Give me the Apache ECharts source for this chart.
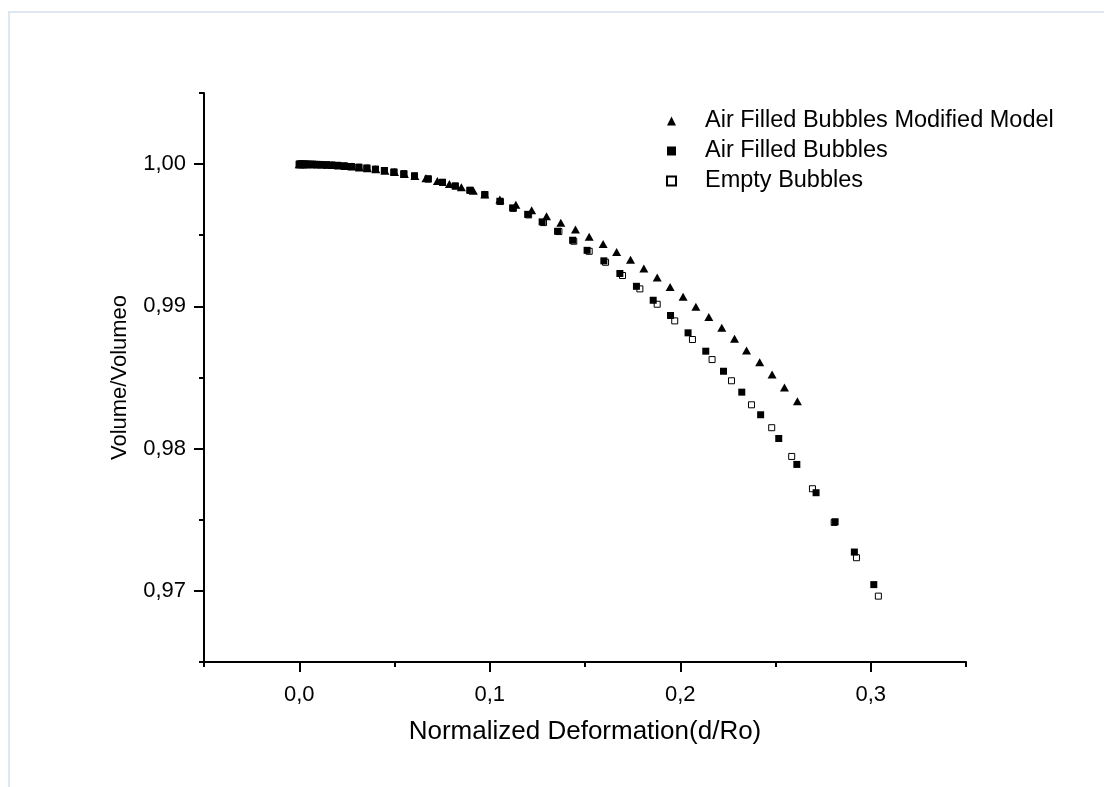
<!DOCTYPE html>
<html>
<head>
<meta charset="utf-8">
<script src="https://cdn.jsdelivr.net/npm/echarts@6/dist/echarts.min.js"></script>
<style>
html,body{margin:0;padding:0;background:#fff;}
#chart{width:1104px;height:787px;}
</style>
</head>
<body>
<div id="chart"></div>
<script>
// ---- data ----
var seriesNames = ['Air Filled Bubbles Modified Model', 'Air Filled Bubbles', 'Empty Bubbles'];
var xTickValues = [0, 0.1, 0.2, 0.3];
var yTickValues = [0.97, 0.98, 0.99, 1.00];

var modelX = [0, 0.0004, 0.0009, 0.0017, 0.0027, 0.0040, 0.0056, 0.0075, 0.0096, 0.0119, 0.0145, 0.0174, 0.0206, 0.0240, 0.0277, 0.0316, 0.0358, 0.0402, 0.0450, 0.0500, 0.0552, 0.0607, 0.0665, 0.0725, 0.0788, 0.0851, 0.0914, 0.0974,
  0.1053, 0.1137, 0.1220, 0.1298, 0.1373, 0.1450, 0.1522, 0.1595, 0.1666, 0.1739, 0.1809, 0.1879, 0.1947, 0.2015, 0.2082, 0.2150, 0.2218, 0.2285, 0.2348, 0.2417, 0.2482, 0.2547, 0.2615];
var modelY = [1.00000, 1.00000, 1.00000, 1.00000, 1.00000, 1.00000, 0.99999, 0.99999, 0.99998, 0.99997, 0.99995, 0.99993, 0.99990, 0.99987, 0.99983, 0.99977, 0.99971, 0.99964, 0.99954, 0.99944, 0.99931, 0.99917, 0.99900, 0.99881, 0.99860, 0.99837, 0.99812, 0.99786,
  0.99751, 0.99715, 0.99675, 0.99633, 0.99587, 0.99540, 0.99489, 0.99439, 0.99383, 0.99327, 0.99266, 0.99203, 0.99137, 0.99067, 0.98997, 0.98926, 0.98849, 0.98772, 0.98690, 0.98607, 0.98521, 0.98430, 0.98333];

var airX = [0, 0.0006, 0.0014, 0.0025, 0.0038, 0.0054, 0.0072, 0.0093, 0.0116, 0.0143, 0.0172, 0.0203, 0.0237, 0.0274, 0.0313, 0.0355, 0.0400, 0.0447, 0.0497, 0.0549, 0.0605, 0.0677, 0.0752, 0.0819, 0.0896, 0.0974,
  0.1053, 0.1120, 0.1199, 0.1275, 0.1356, 0.1435, 0.1511, 0.1599, 0.1683, 0.1770, 0.1858, 0.1949, 0.2041, 0.2134, 0.2227, 0.2323, 0.2422, 0.2517, 0.2612, 0.2713, 0.2813, 0.2914, 0.3016];
var airY = [1.00000, 1.00000, 1.00000, 1.00000, 1.00000, 0.99999, 0.99999, 0.99998, 0.99997, 0.99995, 0.99993, 0.99991, 0.99987, 0.99983, 0.99978, 0.99972, 0.99964, 0.99955, 0.99944, 0.99932, 0.99917, 0.99896, 0.99872, 0.99846, 0.99816, 0.99786,
  0.99739, 0.99692, 0.99647, 0.99594, 0.99528, 0.99465, 0.99394, 0.99320, 0.99231, 0.99141, 0.99043, 0.98936, 0.98814, 0.98685, 0.98544, 0.98397, 0.98238, 0.98071, 0.97889, 0.97690, 0.97486, 0.97273, 0.97044];

var emptyX = [0, 0.0006, 0.0014, 0.0025, 0.0038, 0.0054, 0.0072, 0.0093, 0.0116, 0.0143, 0.0172, 0.0203, 0.0237, 0.0274, 0.0313, 0.0355, 0.0400, 0.0447, 0.0497, 0.0549, 0.0605, 0.0677, 0.0752, 0.0819, 0.0896, 0.0974,
  0.1056, 0.1124, 0.1204, 0.1282, 0.1363, 0.1441, 0.1522, 0.1608, 0.1697, 0.1788, 0.1879, 0.1971, 0.2064, 0.2167, 0.2269, 0.2374, 0.2480, 0.2585, 0.2694, 0.2808, 0.2925, 0.3040];
var emptyY = [1.00000, 1.00000, 1.00000, 1.00000, 1.00000, 0.99999, 0.99999, 0.99998, 0.99997, 0.99995, 0.99993, 0.99991, 0.99987, 0.99983, 0.99978, 0.99972, 0.99964, 0.99955, 0.99944, 0.99932, 0.99917, 0.99896, 0.99872, 0.99846, 0.99816, 0.99786,
  0.99737, 0.99689, 0.99643, 0.99589, 0.99526, 0.99458, 0.99387, 0.99310, 0.99217, 0.99123, 0.99015, 0.98898, 0.98767, 0.98626, 0.98477, 0.98308, 0.98147, 0.97945, 0.97718, 0.97481, 0.97233, 0.96963];

function zip(xs, ys) { return xs.map(function (x, i) { return [x, ys[i]]; }); }

var FONT = '"Liberation Sans", Arial, sans-serif';
var chart = echarts.init(document.getElementById('chart'), null, { renderer: 'canvas' });

var axisLineStyle = { color: '#000', width: 2 };

chart.setOption({
  animation: false,
  backgroundColor: '#fff',
  textStyle: { fontFamily: FONT, color: '#000' },
  graphic: [
    { type: 'line', shape: { x1: 8, y1: 12, x2: 1104, y2: 12 }, style: { stroke: '#dde6f1', lineWidth: 2 }, silent: true },
    { type: 'line', shape: { x1: 9, y1: 12, x2: 9, y2: 787 }, style: { stroke: '#dde6f1', lineWidth: 2 }, silent: true }
  ],
  grid: { left: 204, right: 138, top: 93, bottom: 125, containLabel: false },
  legend: {
    orient: 'vertical',
    left: 661,
    top: 104,
    itemWidth: 9,
    itemHeight: 9,
    itemGap: 6,
    data: seriesNames,
    textStyle: { fontFamily: FONT, fontSize: 23.5, lineHeight: 23.5, color: '#000', padding: [0, 0, 0, 24] }
  },
  xAxis: [{
    type: 'value', min: -0.05, max: 0.35, interval: 0.05,
    position: 'bottom', offset: 0,
    name: 'Normalized Deformation(d/Ro)', nameLocation: 'middle', nameGap: 57,
    nameTextStyle: { fontFamily: FONT, fontSize: 26, color: '#000' },
    axisLine: { show: true, onZero: false, lineStyle: axisLineStyle },
    axisTick: { show: true, inside: false, length: 5, lineStyle: axisLineStyle },
    axisLabel: {
      show: true, margin: 22, fontSize: 22, fontFamily: FONT, color: '#000',
      customValues: xTickValues,
      formatter: function (v) { return v.toFixed(1).replace('.', ','); }
    },
    splitLine: { show: false }
  }, {
    type: 'value', min: -0.05, max: 0.35, interval: 0.05,
    position: 'bottom', offset: 0,
    axisLine: { show: false, onZero: false },
    axisTick: { show: true, inside: false, length: 10, lineStyle: axisLineStyle, customValues: xTickValues },
    axisLabel: { show: false },
    splitLine: { show: false }
  }],
  yAxis: [{
    type: 'value', min: 0.965, max: 1.005, interval: 0.005,
    position: 'left', offset: 0,
    name: 'Volume/Volumeo', nameLocation: 'middle', nameGap: 73, nameRotate: 90,
    nameTextStyle: { fontFamily: FONT, fontSize: 22, color: '#000' },
    axisLine: { show: true, onZero: false, lineStyle: axisLineStyle },
    axisTick: { show: true, inside: false, length: 5, lineStyle: axisLineStyle },
    axisLabel: {
      show: true, margin: 18, fontSize: 22, fontFamily: FONT, color: '#000',
      customValues: yTickValues,
      formatter: function (v) { return v.toFixed(2).replace('.', ','); }
    },
    splitLine: { show: false }
  }, {
    type: 'value', min: 0.965, max: 1.005, interval: 0.005,
    position: 'left', offset: 0,
    axisLine: { show: false, onZero: false },
    axisTick: { show: true, inside: false, length: 10, lineStyle: axisLineStyle, customValues: yTickValues },
    axisLabel: { show: false },
    splitLine: { show: false }
  }],
  series: [{
    name: seriesNames[2], type: 'scatter', xAxisIndex: 0, yAxisIndex: 0,
    symbol: 'rect', symbolSize: 6,
    itemStyle: { color: '#fff', borderColor: '#000', borderWidth: 1, opacity: 1 },
    data: zip(emptyX, emptyY)
  }, {
    name: seriesNames[1], type: 'scatter', xAxisIndex: 0, yAxisIndex: 0,
    symbol: 'rect', symbolSize: 7,
    itemStyle: { color: '#000', opacity: 1 },
    data: zip(airX, airY)
  }, {
    name: seriesNames[0], type: 'scatter', xAxisIndex: 0, yAxisIndex: 0,
    symbol: 'triangle', symbolSize: [9, 8],
    itemStyle: { color: '#000', opacity: 1 },
    data: zip(modelX, modelY)
  }]
});
</script>
</body>
</html>
